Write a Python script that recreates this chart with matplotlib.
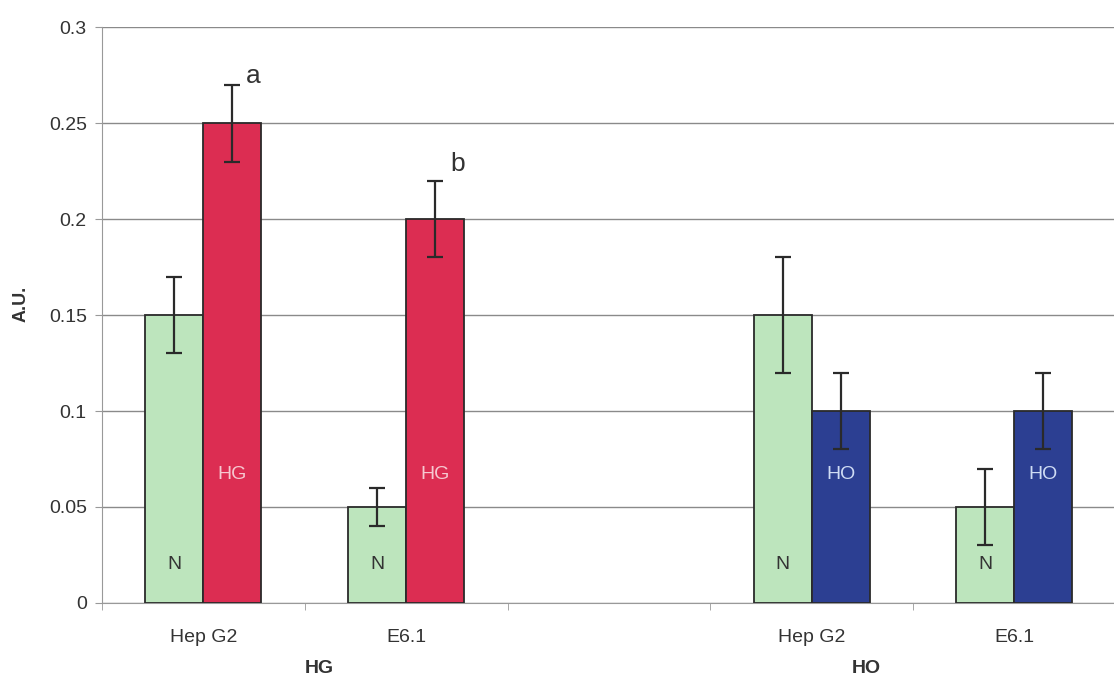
import numpy as np
import matplotlib.pyplot as plt

plt.switch_backend('agg')
plt.rcParams['font.family'] = ['Liberation Sans', 'DejaVu Sans']

cells = ['Hep G2', 'E6.1', 'Hep G2', 'E6.1']
slots = [0, 1, 3, 4]  # slot 2 is the empty gap between the two panels
groups = ['HG', 'HG', 'HO', 'HO']
normal = [0.15, 0.05, 0.15, 0.05]
normal_err = [0.02, 0.01, 0.03, 0.02]
treated = [0.25, 0.20, 0.10, 0.10]
treated_err = [0.02, 0.02, 0.02, 0.02]
letters = ['a', 'b', '', '']
group_names = ['HG', 'HO']

green = '#bde5bd'
fill = {'HG': '#dc2d52', 'HO': '#2c3f92'}
inner_txt = {'HG': '#f6c8d0', 'HO': '#cfdcf4'}
ink = '#333333'

fig = plt.figure(figsize=(11.14, 6.79), dpi=100)
ax = fig.add_axes([0.0916, 0.112, 0.91, 0.848])

w = 0.286
x = np.array(slots, dtype=float)
ax.bar(x - w / 2, normal, w, color=green, edgecolor='#2a2a2a', lw=1.3, zorder=3)
ax.bar(x + w / 2, treated, w, color=[fill[g] for g in groups],
       edgecolor='#2a2a2a', lw=1.3, zorder=3)
ax.errorbar(x - w / 2, normal, yerr=normal_err, fmt='none', ecolor='#2a2a2a',
            elinewidth=1.6, capsize=6, capthick=1.6, zorder=4)
ax.errorbar(x + w / 2, treated, yerr=treated_err, fmt='none', ecolor='#2a2a2a',
            elinewidth=1.6, capsize=6, capthick=1.6, zorder=4)

for i in range(len(cells)):
    ax.text(x[i] - w / 2, 0.02, 'N', ha='center', va='center',
            fontsize=14, color=ink, zorder=5)
    ax.text(x[i] + w / 2, 0.067, groups[i], ha='center', va='center',
            fontsize=14, color=inner_txt[groups[i]], zorder=5)
    if letters[i]:
        ax.text(x[i] + w / 2 + 0.065 + 0.01 * i, treated[i] + treated_err[i] + 0.001 + 0.004 * i,
                letters[i], ha='left', va='baseline', fontsize=19, color=ink)

ax.set_xlim(-0.5, 4.5)
ax.set_ylim(0, 0.3)
ax.set_yticks(np.arange(0, 0.301, 0.05))
ax.set_yticklabels(['0', '0.05', '0.1', '0.15', '0.2', '0.25', '0.3'])
ax.yaxis.grid(True, color='#8a8a8a', lw=1.0, zorder=0)
ax.set_axisbelow(True)

ax.set_xticks(x)
ax.set_xticklabels(cells)
ax.set_xticks(np.arange(-0.5, 4.6, 1.0), minor=True)
ax.tick_params(axis='x', which='major', length=0, pad=19, labelsize=14,
               labelcolor=ink)
ax.tick_params(axis='x', which='minor', length=5, color='#999999', direction='out')
ax.tick_params(axis='y', length=5, color='#999999', labelsize=14,
               labelcolor=ink, pad=6)

for s in ['top', 'right']:
    ax.spines[s].set_visible(False)
ax.spines['left'].set_color('#999999')
ax.spines['bottom'].set_color('#999999')

ax.set_ylabel('A.U.', fontsize=13, fontweight='bold', color=ink, labelpad=14)
ax.yaxis.set_label_coords(-0.072, 0.52)

ax.text(0.57, -0.034, group_names[0], ha='center', va='center',
        fontsize=14, fontweight='bold', color=ink, clip_on=False)
ax.text(3.27, -0.034, group_names[1], ha='center', va='center',
        fontsize=14, fontweight='bold', color=ink, clip_on=False)

fig.savefig('out.png', dpi=100, facecolor='white')
